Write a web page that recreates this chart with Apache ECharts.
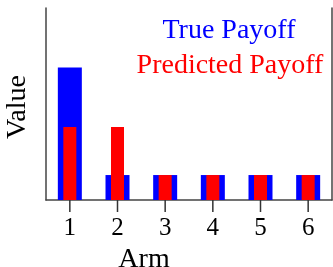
<!DOCTYPE html>
<html>
<head>
<meta charset="utf-8">
<script src="https://cdn.jsdelivr.net/npm/echarts@6/dist/echarts.min.js"></script>
<style>
  html, body { margin: 0; padding: 0; background: #fff; }
  #chart { width: 333px; height: 267px; }
</style>
</head>
<body>
<div id="chart"></div>
<script>
  const arms = ['1', '2', '3', '4', '5', '6']
  const truePayoff = [0.69, 0.13, 0.13, 0.13, 0.13, 0.13]
  const predictedPayoff = [0.38, 0.38, 0.13, 0.13, 0.13, 0.13]

  const font = 'Liberation Serif'
  const axisGray = '#444'

  const chart = echarts.init(document.getElementById('chart'), undefined, { renderer: 'canvas' })

  chart.setOption({
    animation: false,
    grid: { left: 46, right: 1, top: 8, bottom: 67, containLabel: false },
    xAxis: [
      {
        type: 'category',
        data: arms,
        axisLine: { show: true, lineStyle: { color: axisGray, width: 1.5 } },
        axisTick: { show: false },
        axisLabel: { color: '#000', fontFamily: font, fontSize: 25, margin: 16 },
        splitLine: { show: false },
      },
      {
        type: 'category',
        data: arms,
        position: 'bottom',
        axisLine: { show: false },
        axisTick: { show: false },
        axisLabel: { show: false },
        splitLine: { show: false },
      },
    ],
    yAxis: [
      {
        type: 'value',
        min: 0,
        max: 1,
        axisLine: { show: true, lineStyle: { color: axisGray, width: 1.5 } },
        axisTick: { show: false },
        axisLabel: { show: false },
        splitLine: { show: false },
      },
      {
        type: 'value',
        position: 'right',
        min: 0,
        max: 1,
        axisLine: { show: true, lineStyle: { color: axisGray, width: 1.5 } },
        axisTick: { show: false },
        axisLabel: { show: false },
        splitLine: { show: false },
      },
    ],
    series: [
      {
        name: 'True Payoff',
        type: 'bar',
        xAxisIndex: 0,
        data: truePayoff,
        barWidth: 24,
        itemStyle: { color: '#0000ff' },
      },
      {
        name: 'Predicted Payoff',
        type: 'bar',
        xAxisIndex: 1,
        data: predictedPayoff,
        barWidth: 13,
        itemStyle: { color: '#ff0000' },
      },
      {
        // tick marks below the x axis, one per arm
        type: 'custom',
        xAxisIndex: 0,
        clip: false,
        silent: true,
        z: 10,
        data: arms.map((a, i) => [i, 0]),
        renderItem: (params, api) => {
          const p = api.coord([api.value(0), 0])
          return {
            type: 'line',
            shape: { x1: p[0], y1: p[1], x2: p[0], y2: p[1] + 12 },
            style: { stroke: '#333', lineWidth: 1.5 },
          }
        },
      },
    ],
    graphic: [
      {
        type: 'text',
        x: 229, y: 31,
        style: { text: 'True Payoff', fill: '#0000ff', font: '28px "Liberation Serif"', align: 'center', verticalAlign: 'middle' },
      },
      {
        type: 'text',
        x: 230, y: 66,
        style: { text: 'Predicted Payoff', fill: '#ff0000', font: '28px "Liberation Serif"', align: 'center', verticalAlign: 'middle' },
      },
      {
        type: 'text',
        x: 144, y: 260,
        style: { text: 'Arm', fill: '#000', font: '28px "Liberation Serif"', align: 'center', verticalAlign: 'middle' },
      },
      {
        type: 'text',
        x: 18, y: 107,
        rotation: Math.PI / 2,
        style: { text: 'Value', fill: '#000', font: '28px "Liberation Serif"', align: 'center', verticalAlign: 'middle' },
      },
    ],
  })
</script>
</body>
</html>
